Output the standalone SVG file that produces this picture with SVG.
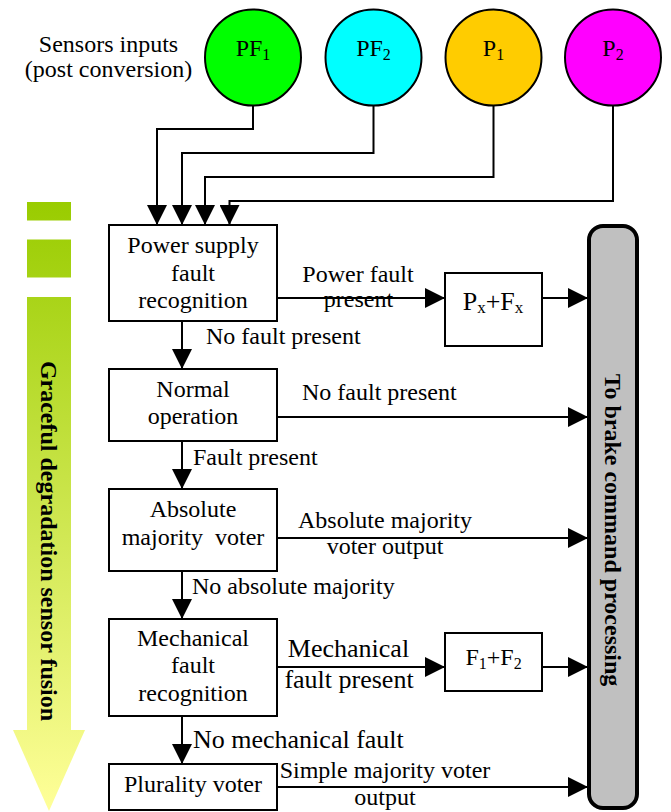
<svg xmlns="http://www.w3.org/2000/svg" width="671" height="812" viewBox="0 0 671 812">
<style>
text{font-family:"Liberation Serif","Times New Roman",serif;font-size:24px;fill:#000}
.m{text-anchor:middle}
.b{font-weight:bold}
.l26{font-size:26px}
.box{fill:#fff;stroke:#000;stroke-width:2}
.circ{stroke:#000;stroke-width:2}
.con{fill:none;stroke:#000;stroke-width:2;marker-end:url(#ah)}
.sub{font-size:16px}
</style>
<defs>
<marker id="ah" markerUnits="userSpaceOnUse" markerWidth="20" markerHeight="20" refX="20" refY="10" orient="auto" viewBox="0 0 20 20">
<path d="M0,0 L20,10 L0,20 z" fill="#000"/>
</marker>
<linearGradient id="gd" gradientUnits="userSpaceOnUse" x1="0" y1="202" x2="0" y2="811">
<stop offset="0" stop-color="#99CC00"/>
<stop offset="1" stop-color="#FFFF99"/>
</linearGradient>
</defs>
<rect width="671" height="812" fill="#fff"/>

<g id="degradation">
<rect x="27" y="202" width="44" height="18.5" fill="url(#gd)"/>
<rect x="27" y="239.5" width="44" height="38" fill="url(#gd)"/>
<polygon points="27,297 71,297 71,730 85,730 49,811 13,730 27,730" fill="url(#gd)"/>
<text class="m b" transform="translate(41,541) rotate(90)">Graceful degradation sensor fusion</text>
</g>

<g id="sensors-label">
<text class="m" x="108.5" y="52">Sensors inputs</text>
<text class="m" x="108.5" y="77">(post conversion)</text>
</g>

<g id="PF1"><circle class="circ" cx="253" cy="57.5" r="48" fill="#00FF00"/><text class="m" x="253" y="56">PF<tspan class="sub" dy="4">1</tspan></text></g>
<g id="PF2"><circle class="circ" cx="373.5" cy="57.5" r="48" fill="#00FFFF"/><text class="m" x="373.5" y="56">PF<tspan class="sub" dy="4">2</tspan></text></g>
<g id="P1"><circle class="circ" cx="493.5" cy="57.5" r="48" fill="#FFCC00"/><text class="m" x="493.5" y="56">P<tspan class="sub" dy="4">1</tspan></text></g>
<g id="P2"><circle class="circ" cx="613" cy="57.5" r="48" fill="#FF00FF"/><text class="m" x="613" y="56">P<tspan class="sub" dy="4">2</tspan></text></g>

<g id="power-supply">
<rect class="box" x="109" y="225" width="168" height="96"/>
<text class="m" x="193" y="253">Power supply</text>
<text class="m" x="193" y="281">fault</text>
<text class="m" x="193" y="308">recognition</text>
</g>
<g id="normal">
<rect class="box" x="109" y="369" width="168" height="72"/>
<text class="m" x="193" y="397">Normal</text>
<text class="m" x="193" y="424">operation</text>
</g>
<g id="absolute">
<rect class="box" x="109" y="489" width="168" height="82"/>
<text class="m" x="193" y="517">Absolute</text>
<text class="m" x="193" y="545" style="white-space:pre">majority  voter</text>
</g>
<g id="mechanical">
<rect class="box" x="109" y="619" width="168" height="97"/>
<text class="m" x="193" y="646">Mechanical</text>
<text class="m" x="193" y="673">fault</text>
<text class="m" x="193" y="701">recognition</text>
</g>
<g id="plurality">
<rect class="box" x="109" y="764" width="168" height="46"/>
<text class="m" x="193" y="792">Plurality voter</text>
</g>
<g id="PxFx">
<rect class="box" x="445" y="273" width="97" height="73"/>
<text class="m" x="493" y="310" style="font-size:26px">P<tspan class="sub" style="font-size:17px" dy="3">x</tspan><tspan dy="-3">+F</tspan><tspan class="sub" style="font-size:17px" dy="3">x</tspan></text>
</g>
<g id="F1F2">
<rect class="box" x="445" y="633" width="97" height="58"/>
<text class="m" x="493.5" y="665">F<tspan class="sub" dy="4">1</tspan><tspan dy="-4">+F</tspan><tspan class="sub" dy="4">2</tspan></text>
</g>
<g id="brake">
<rect x="589" y="226" width="48" height="582" rx="14" ry="14" fill="#C0C0C0" stroke="#000" stroke-width="4"/>
<text class="m b" transform="translate(605,530) rotate(90)">To brake command processing</text>
</g>

<g id="connectors">
<path class="con" d="M253,106 V129 H157 V225"/>
<path class="con" d="M373.5,106 V153 H182 V225"/>
<path class="con" d="M493.5,106 V177 H205 V225"/>
<path class="con" d="M613,106 V201 H229.5 V225"/>
<path class="con" d="M182,321 V369"/>
<path class="con" d="M182,441 V489"/>
<path class="con" d="M182,571 V619"/>
<path class="con" d="M182,716 V764"/>
<path class="con" d="M277,298 H445"/>
<path class="con" d="M542,298 H588"/>
<path class="con" d="M277,417 H588"/>
<path class="con" d="M277,538 H588"/>
<path class="con" d="M277,667 H445"/>
<path class="con" d="M542,667 H588"/>
<path class="con" d="M277,787 H588"/>
</g>

<g id="labels">
<text class="m" x="358" y="282">Power fault</text>
<text class="m" x="358.5" y="307">present</text>
<text x="206" y="344">No fault present</text>
<text x="302" y="400">No fault present</text>
<text x="193" y="465">Fault present</text>
<text class="m" x="385" y="528">Absolute majority</text>
<text class="m" x="385" y="554">voter output</text>
<text x="192" y="594">No absolute majority</text>
<text class="m l26" x="348.5" y="657">Mechanical</text>
<text class="m l26" x="349" y="688">fault present</text>
<text class="l26" x="193" y="748">No mechanical fault</text>
<text class="m" x="385" y="778">Simple majority voter</text>
<text class="m" x="385" y="805">output</text>
</g>
</svg>
